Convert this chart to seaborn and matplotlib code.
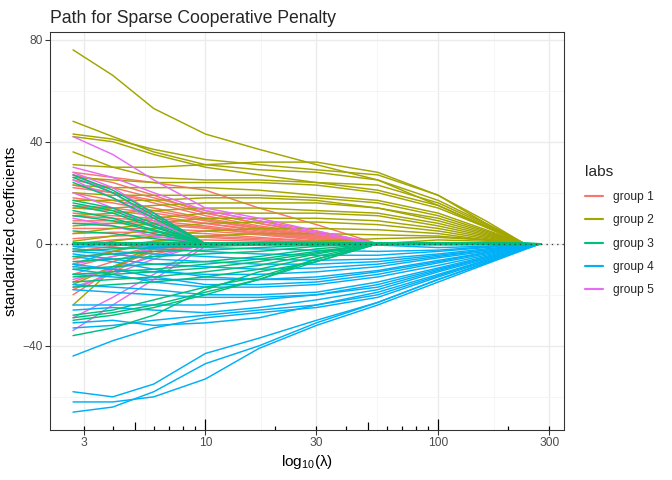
import numpy as np
import pandas as pd
import matplotlib
matplotlib.use("Agg")
import matplotlib.pyplot as plt
import matplotlib.transforms as mtransforms
from matplotlib.lines import Line2D
import seaborn as sns

lam = [2.7, 4, 6, 10, 17, 30, 55, 100, 160, 235, 275]

group1 = [
    [28, 26, 24, 21, 14, 7.5, 0, 0, 0, 0, 0],
    [27, 24, 19, 12, 8, 4, 0, 0, 0, 0, 0],
    [25, 22, 18, 13, 9, 5, 0, 0, 0, 0, 0],
    [23, 20, 16, 11, 7, 4, 0, 0, 0, 0, 0],
    [22, 20, 17, 12, 8, 4.5, 0, 0, 0, 0, 0],
    [20, 17, 14, 10, 6.5, 3.5, 0, 0, 0, 0, 0],
    [18, 16, 13, 9.5, 6, 3, 0, 0, 0, 0, 0],
    [15, 14, 12, 9, 6, 3, 0, 0, 0, 0, 0],
    [14, 13, 11, 8, 5, 2.5, 0, 0, 0, 0, 0],
    [12, 11, 10, 8, 5.5, 3, 0, 0, 0, 0, 0],
    [11, 10, 9, 7, 4.5, 2.5, 0, 0, 0, 0, 0],
    [9, 9, 8, 6.5, 4, 2, 0, 0, 0, 0, 0],
    [8, 8, 7.5, 6, 4, 2, 0, 0, 0, 0, 0],
    [6, 6, 6, 5, 3.5, 1.5, 0, 0, 0, 0, 0],
    [4, 4.5, 4.5, 4, 2.5, 1, 0, 0, 0, 0, 0],
    [2, 3, 3.5, 3, 2, 1, 0, 0, 0, 0, 0],
    [0, 1.5, 2.5, 2.5, 1.5, 0.5, 0, 0, 0, 0, 0],
    [-3, -1, 1, 1.5, 1, 0.5, 0, 0, 0, 0, 0],
    [-6, -3, 0, 0, 0, 0, 0, 0, 0, 0, 0],
    [-9, -5, -1, 0, 0, 0, 0, 0, 0, 0, 0],
    [-12, -7, -2, 0, 0, 0, 0, 0, 0, 0, 0],
    [-15, -9, -3, 0, 0, 0, 0, 0, 0, 0, 0],
    [-18, -11, -4, 0, 0, 0, 0, 0, 0, 0, 0],
    [-20, -10, -2, 0, 0, 0, 0, 0, 0, 0, 0],
]

group2 = [
    [76, 66, 53, 43, 37, 31, 25, 15, 6.5, 0, 0],
    [48, 42, 36, 31, 29, 28, 25, 17, 8, 0, 0],
    [43, 41, 37, 33, 31, 29, 27, 19, 9, 0, 0],
    [42, 40, 35, 30, 27, 24, 21, 15, 7, 0, 0],
    [36, 30, 26, 25, 25, 24, 23, 16, 7.5, 0, 0],
    [31, 30, 30, 31, 32, 32, 28, 19, 8, 0, 0],
    [26, 25, 24, 24, 24, 23, 20, 14, 6.5, 0, 0],
    [23, 22, 22, 22, 21, 19, 17, 12, 5.5, 0, 0],
    [20, 19, 19, 19, 19, 18, 16, 11, 5, 0, 0],
    [17, 17, 17, 18, 18, 17, 14, 10, 4.5, 0, 0],
    [14, 14, 15, 16, 16, 16, 14, 9, 4, 0, 0],
    [11, 12, 13, 14, 14, 13, 12, 8, 3.5, 0, 0],
    [7, 8, 10, 12, 12, 12, 11, 7, 3, 0, 0],
    [4, 6, 8, 10, 10, 10, 9, 6, 2.5, 0, 0],
    [1, 3, 6, 8, 8.5, 8.5, 7.5, 5, 2, 0, 0],
    [-2, 1, 3, 5, 6, 6, 5.5, 4, 1.5, 0, 0],
    [-8, -3, 1, 3, 4, 4, 3.5, 3, 1.5, 0, 0],
    [-16, -9, -2, 0, 0.5, 1, 2, 2.5, 1.5, 0, 0],
    [-24, -10, 0, 0, 0, 0, 0, 1.5, 1, 0, 0],
]

group3 = [
    [27, 21, 12, 0, 0, 0, 0, 0, 0, 0, 0],
    [26, 20, 11, 0, 0, 0, 0, 0, 0, 0, 0],
    [24, 18, 10, 0, 0, 0, 0, 0, 0, 0, 0],
    [17, 14, 8, 0, 0, 0, 0, 0, 0, 0, 0],
    [16, 13, 7, 0, 0, 0, 0, 0, 0, 0, 0],
    [15, 12, 6.5, 0, 0, 0, 0, 0, 0, 0, 0],
    [13, 10, 5.5, 0, 0, 0, 0, 0, 0, 0, 0],
    [11, 9, 5, 0, 0, 0, 0, 0, 0, 0, 0],
    [8, 7, 4, 0, 0, 0, 0, 0, 0, 0, 0],
    [5, 4, 2, 0, 0, 0, 0, 0, 0, 0, 0],
    [0, 0, 0, 0, 0, 0, 0, 0, 0, 0, 0],
    [0.4, 0.4, 0.4, 0.4, 0.4, 0.4, 0.4, 0.4, 0.4, 0.4, 0],
    [-0.4, -0.4, -0.4, -0.4, -0.4, -0.4, -0.4, -0.4, -0.4, -0.4, 0],
    [-3, -2, -1.5, -1, -0.5, 0, 0, 0, 0, 0, 0],
    [-5, -4, -3, -2.5, -1.5, -0.5, 0, 0, 0, 0, 0],
    [-7, -6, -5, -4, -3, -1, 0, 0, 0, 0, 0],
    [-10, -9, -8, -7, -5, -2, 0, 0, 0, 0, 0],
    [-12, -11, -10, -8, -6, -3, 0, 0, 0, 0, 0],
    [-13, -12, -11, -9.5, -7, -3.5, 0, 0, 0, 0, 0],
    [-15, -14, -13, -11, -8.5, -4, 0, 0, 0, 0, 0],
    [-17, -16, -15, -13, -10, -5, 0, 0, 0, 0, 0],
    [-28, -26, -22, -17, -13, -6, 0, 0, 0, 0, 0],
    [-29, -27, -24, -19, -14, -7, 0, 0, 0, 0, 0],
    [-30, -28, -25, -20, -14, -6, 0, 0, 0, 0, 0],
    [-36, -33, -28, -18, -11, -7, 0, 0, 0, 0, 0],
]

group4 = [
    [-58, -60, -55, -43, -37, -30, -23, -14, -7.5, -2, 0],
    [-62, -62, -60, -53, -41, -32, -24, -15, -8, -2.3, 0],
    [-66, -64, -58, -47, -40, -31, -23, -14, -7.5, -2, 0],
    [-44, -38, -33, -29, -27, -25, -21, -13, -7, -2, 0],
    [-33, -32, -30, -28, -26, -24, -20, -12.5, -6.5, -1.8, 0],
    [-31, -30, -32, -31, -29, -24, -19, -12, -6.5, -1.8, 0],
    [-26, -25, -26, -27, -25, -22, -18, -11, -6, -1.6, 0],
    [-24, -24, -24, -24, -22, -20, -16, -10, -5.5, -1.5, 0],
    [-18, -19, -20, -21, -21, -20, -17, -10.5, -5.5, -1.5, 0],
    [-16, -17, -18, -20, -20, -19, -15, -9.5, -5, -1.3, 0],
    [-10, -12, -15, -17, -17, -16, -13, -8.5, -4.5, -1.2, 0],
    [-8, -10, -13, -16, -16, -15, -12, -7.5, -4, -1, 0],
    [-5, -7, -10, -13, -14, -14, -11, -7, -3.5, -1, 0],
    [-12, -13, -14, -14, -14, -13, -10.5, -6.5, -3.5, -1, 0],
    [-9, -10, -11, -12, -12, -11, -9, -5.5, -3, -0.8, 0],
    [-4, -6, -8, -9, -10, -9.5, -8, -5, -2.5, -0.7, 0],
    [-3, -4, -6, -7, -8, -8, -7, -4.5, -2.5, -0.6, 0],
    [-2, -3, -4, -5, -6, -6.5, -6, -4, -2, -0.5, 0],
    [-1, -1.5, -2, -3, -4, -4.5, -4.5, -3, -1.5, -0.4, 0],
    [0, -0.5, -1, -1.5, -2, -2.5, -3, -2.5, -1.2, -0.3, 0],
    [0, 0, 0, 0, 0, 0, -0.5, -1.5, -1, -0.3, 0],
]

group5 = [
    [42, 35, 25, 14, 10, 5, 0, 0, 0, 0, 0],
    [30, 26, 20, 13, 9, 4, 0, 0, 0, 0, 0],
    [28, 22, 12, 0, 0, 0, 0, 0, 0, 0, 0],
    [27, 20, 10, 0, 0, 0, 0, 0, 0, 0, 0],
    [25, 18, 9, 0, 0, 0, 0, 0, 0, 0, 0],
    [20, 14, 7, 0, 0, 0, 0, 0, 0, 0, 0],
    [10, 7, 3, 0, 0, 0, 0, 0, 0, 0, 0],
    [-8, -5, -2, 0, 0, 0, 0, 0, 0, 0, 0],
    [-14, -10, -5, 0, 0, 0, 0, 0, 0, 0, 0],
    [-17, -12, -6, 0, 0, 0, 0, 0, 0, 0, 0],
    [-29, -21, -12, 0, 0, 0, 0, 0, 0, 0, 0],
    [-34, -24, -14, -1, 0, 0, 0, 0, 0, 0, 0],
]

labels = ["group 1", "group 2", "group 3", "group 4", "group 5"]
colors = ["#F8766D", "#A3A500", "#00BF7D", "#00B0F6", "#E76BF3"]
groups = [group1, group2, group3, group4, group5]

rows = []
for lab, lines in zip(labels, groups):
    for k, vals in enumerate(lines):
        for l, v in zip(lam, vals):
            rows.append({"lam": l, "coef": v, "labs": lab, "var": f"{lab}-{k}"})
df = pd.DataFrame(rows)
palette = dict(zip(labels, colors))

sns.set_theme(style="white")
plt.rcParams["font.family"] = ["Liberation Sans", "DejaVu Sans"]
plt.rcParams["mathtext.default"] = "regular"

fig = plt.figure(figsize=(7, 5), dpi=96)
ax = fig.add_axes([50 / 672, 1 - 430 / 480, 514 / 672, 398 / 480])

draw_order = ["group 1", "group 2", "group 5", "group 4", "group 3"]
for g in draw_order:
    sns.lineplot(data=df[df["labs"] == g], x="lam", y="coef", units="var",
                 estimator=None, color=palette[g], linewidth=1.1, ax=ax,
                 legend=False, zorder=3)

ax.axhline(0, color="#444444", linestyle=(0, (1, 3)), linewidth=1.0, zorder=5)

ax.set_xscale("log")
ax.set_xlim(2.15, 347)
ax.set_ylim(-73, 83)
ax.set_xticks([3, 10, 30, 100, 300])
ax.set_xticklabels(["3", "10", "30", "100", "300"])
ax.set_xticks([5.477, 17.32, 54.77, 173.2], minor=True)
ax.set_yticks([-40, 0, 40, 80])
ax.set_yticks([-60, -20, 20, 60], minor=True)
ax.xaxis.set_minor_formatter(matplotlib.ticker.NullFormatter())

ax.grid(which="major", color="#EBEBEB", linewidth=1.0, zorder=0)
ax.grid(which="minor", color="#F3F3F3", linewidth=0.6, zorder=0)
ax.set_axisbelow(True)
for s in ax.spines.values():
    s.set_color("#333333")
    s.set_linewidth(0.8)
ax.tick_params(which="major", length=3.5, color="#333333", width=0.8,
               labelsize=9, labelcolor="#4D4D4D", bottom=True, left=True, pad=2)
ax.tick_params(which="minor", length=0, bottom=False, left=False)

# log ticks along the bottom of the panel
trans = mtransforms.blended_transform_factory(ax.transData, ax.transAxes)
short = [3, 4, 6, 7, 8, 9, 20, 30, 40, 60, 70, 80, 90, 200, 300]
mid = [5, 50]
long_ = [10, 100]
ax.vlines(short, 0, 0.0095, transform=trans, color="black", linewidth=0.9, zorder=6)
ax.vlines(mid, 0, 0.019, transform=trans, color="black", linewidth=0.9, zorder=6)
ax.vlines(long_, 0, 0.0285, transform=trans, color="black", linewidth=0.9, zorder=6)

ax.set_xlabel(r"log$_{10}$(λ)", fontsize=11.5, color="black", labelpad=3)
ax.set_ylabel("standardized coefficients", fontsize=11.5, color="black", labelpad=3)
ax.set_title("Path for Sparse Cooperative Penalty", fontsize=13.2, loc="left", pad=7)

handles = [Line2D([0], [0], color=c, linewidth=1.6) for c in colors]
leg = ax.legend(handles, labels, title="labs", loc="center left",
                bbox_to_anchor=(1.02, 0.5), frameon=False, fontsize=9,
                title_fontsize=11.5, handlelength=1.5, labelspacing=0.95)
leg._legend_box.align = "left"

fig.savefig("out.png", dpi=96)
